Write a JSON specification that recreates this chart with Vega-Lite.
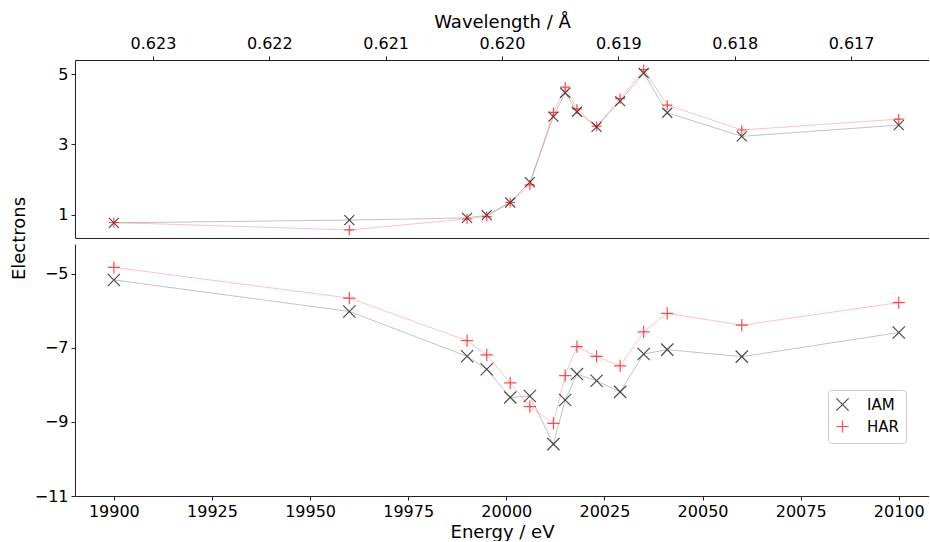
{
  "$schema": "https://vega.github.io/schema/vega-lite/v6.json",
  "padding": {"left": 10, "top": 13, "right": 0, "bottom": 0},
  "background": "white",
  "bounds": "flush",
  "config": {
    "font": "DejaVu Sans",
    "view": {"stroke": null},
    "axis": {
      "labelFont": "DejaVu Sans", "titleFont": "DejaVu Sans",
      "labelFontSize": 16, "titleFontSize": 18, "titleFontWeight": "normal",
      "labelColor": "#000", "titleColor": "#000",
      "domainColor": "#222", "domainWidth": 1, "tickColor": "#222", "tickWidth": 1, "tickSize": 4,
      "grid": false, "labelPadding": 3
    },
    "legend": {
      "labelFont": "DejaVu Sans", "labelFontSize": 15, "labelColor": "#000",
      "fillColor": "white", "strokeColor": "#cccccc", "cornerRadius": 3, "padding": 7,
      "symbolSize": 150, "symbolStrokeWidth": 1.2, "rowPadding": 3, "labelOffset": 17
    }
  },
  "datasets": {
    "el": [
      {"E": 19900, "model": "IAM", "upper": 0.77, "lower": -5.17},
      {"E": 19960, "model": "IAM", "upper": 0.85, "lower": -6.02},
      {"E": 19990, "model": "IAM", "upper": 0.91, "lower": -7.23},
      {"E": 19995, "model": "IAM", "upper": 0.99, "lower": -7.58},
      {"E": 20001, "model": "IAM", "upper": 1.35, "lower": -8.34},
      {"E": 20006, "model": "IAM", "upper": 1.93, "lower": -8.30},
      {"E": 20012, "model": "IAM", "upper": 3.79, "lower": -9.60},
      {"E": 20015, "model": "IAM", "upper": 4.47, "lower": -8.41},
      {"E": 20018, "model": "IAM", "upper": 3.93, "lower": -7.71},
      {"E": 20023, "model": "IAM", "upper": 3.50, "lower": -7.89},
      {"E": 20029, "model": "IAM", "upper": 4.23, "lower": -8.19},
      {"E": 20035, "model": "IAM", "upper": 5.03, "lower": -7.17},
      {"E": 20041, "model": "IAM", "upper": 3.90, "lower": -7.05},
      {"E": 20060, "model": "IAM", "upper": 3.23, "lower": -7.24},
      {"E": 20100, "model": "IAM", "upper": 3.55, "lower": -6.59},
      {"E": 19900, "model": "HAR", "upper": 0.78, "lower": -4.83},
      {"E": 19960, "model": "HAR", "upper": 0.57, "lower": -5.66},
      {"E": 19990, "model": "HAR", "upper": 0.88, "lower": -6.81},
      {"E": 19995, "model": "HAR", "upper": 0.95, "lower": -7.19},
      {"E": 20001, "model": "HAR", "upper": 1.35, "lower": -7.95},
      {"E": 20006, "model": "HAR", "upper": 1.85, "lower": -8.59},
      {"E": 20012, "model": "HAR", "upper": 3.91, "lower": -9.04},
      {"E": 20015, "model": "HAR", "upper": 4.63, "lower": -7.75},
      {"E": 20018, "model": "HAR", "upper": 4.01, "lower": -6.97},
      {"E": 20023, "model": "HAR", "upper": 3.52, "lower": -7.23},
      {"E": 20029, "model": "HAR", "upper": 4.30, "lower": -7.49},
      {"E": 20035, "model": "HAR", "upper": 5.13, "lower": -6.57},
      {"E": 20041, "model": "HAR", "upper": 4.12, "lower": -6.07},
      {"E": 20060, "model": "HAR", "upper": 3.41, "lower": -6.39},
      {"E": 20100, "model": "HAR", "upper": 3.72, "lower": -5.78}
    ],
    "wl": [{"wavelength": 0.623}, {"wavelength": 0.617}]
  },
  "spacing": 6,
  "resolve": {"legend": {"color": "independent", "shape": "independent"}},
  "vconcat": [
    {
      "width": 854,
      "height": 178,
      "layer": [
        {
          "data": {"name": "el"},
          "layer": [
            {
              "mark": {"type": "line", "strokeWidth": 0.8, "opacity": 0.3},
              "encoding": {
                "x": {"field": "E", "type": "quantitative", "scale": {"domain": [19890.1, 20107.7], "nice": false, "zero": false},
                      "axis": {"labels": false, "ticks": false, "title": null}},
                "y": {"field": "upper", "type": "quantitative", "scale": {"domain": [0.34, 5.40], "nice": false, "zero": false},
                      "axis": {"values": [1, 3, 5], "title": "Electrons", "titleX": -56, "titleY": 178, "titleAngle": 270, "titleAlign": "center", "titleBaseline": "middle"}},
                "stroke": {"field": "model", "type": "nominal", "scale": {"domain": ["IAM", "HAR"], "range": ["#000000", "#ff0000"]}, "legend": null},
                "detail": {"field": "model"}
              }
            },
            {
              "mark": {"type": "point", "filled": false, "strokeWidth": 1.2, "size": 100},
              "encoding": {
                "x": {"field": "E", "type": "quantitative"},
                "y": {"field": "upper", "type": "quantitative"},
                "color": {"field": "model", "type": "nominal", "scale": {"domain": ["IAM", "HAR"], "range": ["#000000", "#ff0000"]}, "legend": null},
                "shape": {"field": "model", "type": "nominal", "scale": {"domain": ["IAM", "HAR"], "range": ["M-1,-1L1,1M-1,1L1,-1", "M-1,0L1,0M0,-1L0,1"]}, "legend": null}
              }
            }
          ]
        },
        {
          "data": {"name": "wl"},
          "mark": {"type": "point", "opacity": 0},
          "encoding": {
            "x": {"field": "wavelength", "type": "quantitative",
                  "scale": {"domain": [0.62367, 0.61633], "nice": false, "zero": false},
                  "axis": {"orient": "top", "values": [0.617, 0.618, 0.619, 0.62, 0.621, 0.622, 0.623], "format": ".3f", "title": "Wavelength / Å", "titlePadding": 4, "labelPadding": 5}}
          }
        }
      ],
      "resolve": {"scale": {"x": "independent"}, "axis": {"x": "independent"}}
    },
    {
      "width": 854,
      "height": 252,
      "data": {"name": "el"},
      "layer": [
        {
          "mark": {"type": "line", "strokeWidth": 0.8, "opacity": 0.3},
          "encoding": {
            "x": {"field": "E", "type": "quantitative", "scale": {"domain": [19890.1, 20107.7], "nice": false, "zero": false},
                  "axis": {"values": [19900, 19925, 19950, 19975, 20000, 20025, 20050, 20075, 20100], "format": "d", "title": "Energy / eV", "titlePadding": 4}},
            "y": {"field": "lower", "type": "quantitative", "scale": {"domain": [-11, -4.2], "nice": false, "zero": false},
                  "axis": {"values": [-5, -7, -9, -11], "title": null}},
            "stroke": {"field": "model", "type": "nominal", "legend": null},
            "detail": {"field": "model"}
          }
        },
        {
          "mark": {"type": "point", "filled": false, "strokeWidth": 1.2, "size": 150},
          "encoding": {
            "x": {"field": "E", "type": "quantitative"},
            "y": {"field": "lower", "type": "quantitative"},
            "color": {"field": "model", "type": "nominal", "legend": {"title": null, "orient": "none", "legendX": 753, "legendY": 146}},
            "shape": {"field": "model", "type": "nominal", "legend": {"title": null, "orient": "none", "legendX": 753, "legendY": 146}}
          }
        }
      ]
    }
  ]
}
